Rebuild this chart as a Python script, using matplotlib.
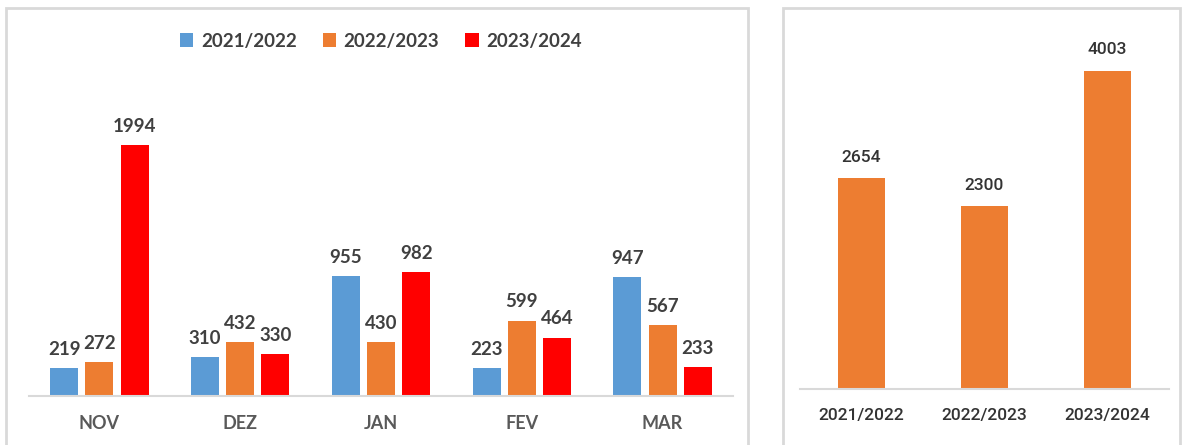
import numpy as np
import matplotlib
matplotlib.use('Agg')
import matplotlib.pyplot as plt
from matplotlib.patches import Rectangle

# Data

months = ['NOV', 'DEZ', 'JAN', 'FEV', 'MAR']
seasons = ['2021/2022', '2022/2023', '2023/2024']
v_2122 = [219, 310, 955, 223, 947]
v_2223 = [272, 432, 430, 599, 567]
v_2324 = [1994, 330, 982, 464, 233]
totals = [2654, 2300, 4003]

colors = ['#5B9BD5', '#ED7D31', '#FF0000']
txt = '#404040'
grid_c = '#D9D9D9'

W, H = 1189, 445
fig = plt.figure(figsize=(W / 100, H / 100), dpi=100)

def box(x0, y0, x1, y1):
    return [x0 / W, 1 - y1 / H, (x1 - x0) / W, (y1 - y0) / H]

# panel frames
for x0, x1 in [(6, 748), (783, 1180)]:
    fig.patches.append(Rectangle((x0 / W, -0.05), (x1 - x0) / W, 1.05 - 8 / H,
                                 transform=fig.transFigure, fill=False,
                                 edgecolor=grid_c, linewidth=2))

# Left chart - monthly
ax = fig.add_axes(box(29, 60, 733, 396))
x = np.arange(len(months))
step = 0.25
width = 0.2
series = [v_2122, v_2223, v_2324]
for i, vals in enumerate(series):
    pos = x + (i - 1) * step
    ax.bar(pos, vals, width, color=colors[i], label=seasons[i])
    for p, v in zip(pos, vals):
        ax.text(p, v + 80, str(v), ha='center', va='bottom', fontsize=13.5,
                fontweight='bold', color=txt, family='Lato')
ax.set_xlim(-0.5, 4.5)
ax.set_ylim(0, 2668)
ax.set_xticks(x)
ax.set_xticklabels(months, fontsize=13, fontweight='bold', color='#595959', family='Lato')
ax.tick_params(axis='x', length=0, pad=14)
ax.set_yticks([])
for s in ['top', 'right', 'left']:
    ax.spines[s].set_visible(False)
ax.spines['bottom'].set_color(grid_c)
ax.spines['bottom'].set_linewidth(1.5)
leg = ax.legend(loc='center', bbox_to_anchor=(0.5, (396 - 41) / 336), ncol=3, frameon=False,
                handlelength=0.7, handleheight=0.7, columnspacing=1.4, handletextpad=0.4,
                prop={'family': 'Lato', 'weight': 'bold', 'size': 13.5})
for t in leg.get_texts():
    t.set_color(txt)

# Right chart - totals
ax2 = fig.add_axes(box(800, 20, 1169, 389))
x2 = np.arange(len(seasons))
ax2.bar(x2, totals, 0.39, color=colors[1])
for p, v in zip(x2, totals):
    ax2.text(p, v + 170, str(v), ha='center', va='bottom', fontsize=12.5,
             color='#333333', family='Roboto', fontweight='medium')
ax2.set_xlim(-0.5, 2.5)
ax2.set_ylim(0, 4645)
ax2.set_xticks(x2)
ax2.set_xticklabels(seasons, fontsize=12.5, color='#333333', family='Roboto', fontweight='medium')
ax2.tick_params(axis='x', length=0, pad=14)
ax2.set_yticks([])
for s in ['top', 'right', 'left']:
    ax2.spines[s].set_visible(False)
ax2.spines['bottom'].set_color(grid_c)
ax2.spines['bottom'].set_linewidth(1.5)

fig.savefig('out.png', dpi=100)
